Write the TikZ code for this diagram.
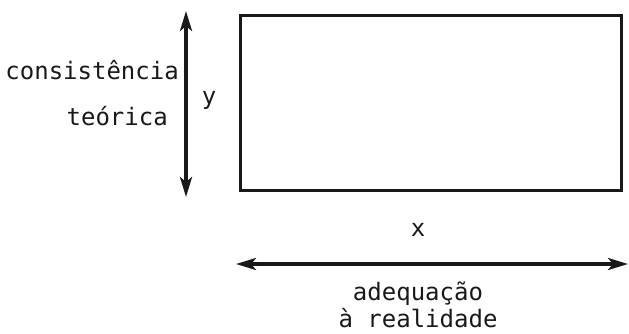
\documentclass[tikz,border=0pt]{standalone}
\usepackage{fontspec}
\setmonofont{DejaVu Sans Mono}
\usetikzlibrary{arrows.meta}
\begin{document}
\begin{tikzpicture}[x=1pt,y=-1pt,
  lbl/.style={font=\fontsize{24}{27}\selectfont\ttfamily, inner sep=0pt, text=black!90},
  dbl/.style={line width=3.4pt, draw=black!90, {Stealth[length=20pt,width=12pt,inset=5pt]}-{Stealth[length=20pt,width=12pt,inset=5pt]}}
]
\useasboundingbox (0,0) rectangle (629,333);
\node[draw=black!90, line width=3.2pt, minimum width=381pt, minimum height=175pt, inner sep=0pt, anchor=north west] (box) at (239,14) {};
\coordinate (vt) at (186,11);
\coordinate (vb) at (186,197);
\draw[dbl] (vt) -- (vb);
\coordinate (hl) at (236,264);
\coordinate (hr) at (628,264);
\draw[dbl] (hl) -- (hr);
\node[lbl, anchor=east] (cons) at (179,70) {consistência};
\node[lbl, anchor=east] (teor) at (168,116) {teórica};
\node[lbl] (ylab) at (209,100) {y};
\node[lbl] (xlab) at (418,230) {x};
\node[lbl] (adeq) at (418,294) {adequação};
\node[lbl] (real) at (418,318) {à realidade};
\end{tikzpicture}
\end{document}
